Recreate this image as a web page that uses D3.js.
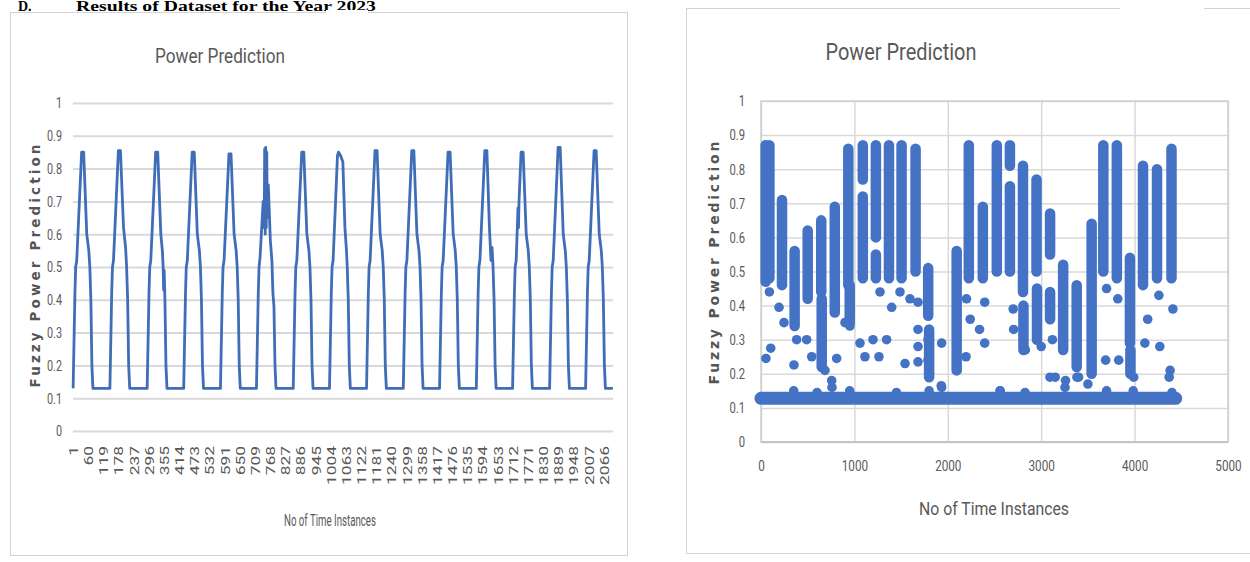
<!DOCTYPE html>
<html><head><meta charset="utf-8">
<script src="https://cdn.jsdelivr.net/npm/d3@7"></script>
<style>
html,body{margin:0;padding:0;background:#fff;}
svg{display:block;}
.narrow{font-family:'Liberation Sans Narrow','Arial Narrow','Roboto',sans-serif;}
</style></head>
<body>
<svg id="chart" width="1250" height="562"></svg>
<script>
// ---------- DATA ----------
const heading = ["D.", "Results of Dataset for the Year 2023"];
const chartTitle = "Power Prediction";
const yTitle = "Fuzzy Power Prediction";
const xTitle = "No of Time Instances";

// Left chart: line vertices (time index, fuzzy power) per daily cycle
const cycleIndex = [
  [1, 8, 11, 15, 34, 42, 54, 62, 66, 70, 74, 78],
  [144, 151, 154, 158, 177, 185, 197, 205, 209, 213, 217, 221],
  [289, 296, 299, 303, 322, 330, 342, 348, 351, 353, 355, 358, 362, 366],
  [431, 438, 441, 445, 464, 472, 484, 492, 496, 500, 504, 508],
  [574, 581, 584, 588, 607, 615, 627, 635, 639, 643, 647, 651],
  [714, 721, 724, 728, 740, 744, 746, 748, 750, 752, 754, 756, 760, 768, 774, 778, 782, 786, 790],
  [857, 864, 867, 871, 890, 898, 910, 918, 922, 926, 930, 934],
  [998, 1005, 1008, 1012, 1029, 1033, 1041, 1050, 1058, 1064, 1067, 1071, 1075, 1079],
  [1142, 1149, 1152, 1156, 1175, 1183, 1195, 1203, 1207, 1211, 1215, 1219],
  [1285, 1292, 1295, 1299, 1318, 1326, 1338, 1346, 1350, 1354, 1358, 1362],
  [1426, 1433, 1436, 1440, 1459, 1467, 1479, 1487, 1491, 1495, 1499, 1503],
  [1569, 1576, 1579, 1583, 1602, 1610, 1620, 1626, 1630, 1634, 1638, 1642, 1646],
  [1710, 1717, 1720, 1724, 1731, 1733, 1735, 1743, 1751, 1763, 1771, 1775, 1779, 1783, 1787],
  [1854, 1861, 1864, 1868, 1887, 1895, 1907, 1915, 1919, 1923, 1927, 1931],
  [1994, 2001, 2004, 2008, 2027, 2035, 2047, 2055, 2059, 2063, 2067, 2071, 2100]
];
const cycleValue = [
  [0.13, 0.42, 0.50, 0.52, 0.85, 0.85, 0.60, 0.55, 0.50, 0.40, 0.20, 0.13],
  [0.13, 0.42, 0.50, 0.52, 0.855, 0.855, 0.62, 0.56, 0.50, 0.40, 0.20, 0.13],
  [0.13, 0.42, 0.50, 0.52, 0.85, 0.85, 0.60, 0.55, 0.50, 0.43, 0.49, 0.40, 0.20, 0.13],
  [0.13, 0.42, 0.50, 0.52, 0.85, 0.85, 0.60, 0.55, 0.50, 0.40, 0.20, 0.13],
  [0.13, 0.42, 0.50, 0.52, 0.845, 0.845, 0.60, 0.55, 0.50, 0.40, 0.20, 0.13],
  [0.13, 0.42, 0.50, 0.53, 0.70, 0.62, 0.86, 0.60, 0.865, 0.62, 0.85, 0.65, 0.75, 0.58, 0.52, 0.42, 0.38, 0.20, 0.13],
  [0.13, 0.42, 0.50, 0.52, 0.85, 0.85, 0.60, 0.55, 0.50, 0.40, 0.20, 0.13],
  [0.13, 0.42, 0.50, 0.52, 0.84, 0.85, 0.84, 0.82, 0.62, 0.55, 0.50, 0.40, 0.20, 0.13],
  [0.13, 0.42, 0.50, 0.52, 0.855, 0.855, 0.60, 0.55, 0.50, 0.40, 0.20, 0.13],
  [0.13, 0.42, 0.50, 0.52, 0.855, 0.855, 0.60, 0.55, 0.50, 0.40, 0.20, 0.13],
  [0.13, 0.42, 0.50, 0.52, 0.85, 0.85, 0.60, 0.55, 0.50, 0.40, 0.20, 0.13],
  [0.13, 0.42, 0.50, 0.52, 0.855, 0.855, 0.62, 0.52, 0.56, 0.50, 0.40, 0.20, 0.13],
  [0.13, 0.42, 0.50, 0.52, 0.68, 0.62, 0.70, 0.85, 0.85, 0.60, 0.55, 0.50, 0.40, 0.20, 0.13],
  [0.13, 0.42, 0.50, 0.52, 0.865, 0.865, 0.60, 0.55, 0.50, 0.40, 0.20, 0.13],
  [0.13, 0.42, 0.50, 0.52, 0.855, 0.855, 0.60, 0.55, 0.50, 0.40, 0.20, 0.13, 0.13]
];
const leftXTicks = [1, 60, 119, 178, 237, 296, 355, 414, 473, 532, 591, 650, 709, 768, 827, 886, 945,
  1004, 1063, 1122, 1181, 1240, 1299, 1358, 1417, 1476, 1535, 1594, 1653, 1712, 1771, 1830, 1889, 1948, 2007, 2066];
const leftCount = 2100;
const yTicks = [0, 0.1, 0.2, 0.3, 0.4, 0.5, 0.6, 0.7, 0.8, 0.9, 1];

// Right chart: scatter. Dense vertical stacks of points (x, lowest, highest)
const colX    = [50, 90, 225, 360, 500, 645, 650, 790, 935, 950, 1090, 1090, 1230, 1230, 1370, 1505, 1655, 1790, 1800, 2095, 2225, 2375, 2525, 2665, 2665, 2805, 2810, 2950, 2955, 3095, 3095, 3235, 3380, 3540, 3665, 3810, 3950, 3955, 4090, 4240, 4395];
const colLow  = [0.47, 0.48, 0.46, 0.34, 0.42, 0.44, 0.22, 0.38, 0.46, 0.35, 0.48, 0.77, 0.48, 0.60, 0.48, 0.48, 0.50, 0.37, 0.19, 0.21, 0.48, 0.48, 0.50, 0.50, 0.81, 0.44, 0.27, 0.50, 0.30, 0.55, 0.36, 0.27, 0.22, 0.20, 0.50, 0.48, 0.29, 0.20, 0.46, 0.48, 0.48];
const colHigh = [0.87, 0.87, 0.71, 0.56, 0.62, 0.65, 0.42, 0.69, 0.86, 0.46, 0.72, 0.87, 0.55, 0.87, 0.87, 0.87, 0.86, 0.51, 0.33, 0.56, 0.87, 0.69, 0.87, 0.75, 0.87, 0.81, 0.40, 0.77, 0.45, 0.67, 0.44, 0.52, 0.46, 0.64, 0.87, 0.87, 0.54, 0.27, 0.81, 0.80, 0.86];
// Isolated points
const dotX = [53, 104, 90, 193, 246, 353, 382, 489, 543, 685, 757, 810, 899, 952, 1060, 1113, 1199, 1263, 1274, 1345, 1399, 1488, 1542, 1595, 1681, 1681, 1681, 1681, 1788, 1788, 1934, 1934, 2200, 2195, 2240, 2395, 2340, 2395, 2560, 2700, 2705, 2830, 3000, 3120, 3150, 3260, 3400, 3700, 3690, 3820, 3830, 3990, 4110, 4140, 4260, 4270, 4410, 4380, 4370];
const dotY = [0.245, 0.275, 0.44, 0.395, 0.35, 0.226, 0.30, 0.30, 0.25, 0.21, 0.18, 0.245, 0.35, 0.34, 0.29, 0.25, 0.30, 0.25, 0.44, 0.30, 0.395, 0.44, 0.23, 0.42, 0.41, 0.33, 0.28, 0.235, 0.30, 0.24, 0.29, 0.16, 0.42, 0.25, 0.36, 0.41, 0.33, 0.29, 0.15, 0.39, 0.33, 0.27, 0.28, 0.30, 0.19, 0.18, 0.19, 0.45, 0.24, 0.42, 0.24, 0.19, 0.29, 0.36, 0.43, 0.28, 0.39, 0.21, 0.19];
// Base band of points near 0.13 and small bumps above it
const baseStart = 0, baseEnd = 4440, baseValue = 0.128;
const bumpX = [350, 600, 760, 950, 1450, 1800, 1930, 2560, 2827, 3094, 3255, 3383, 3500, 3700, 3985, 4400];
const bumpY = [0.15, 0.145, 0.16, 0.15, 0.145, 0.15, 0.165, 0.15, 0.145, 0.19, 0.16, 0.19, 0.17, 0.15, 0.15, 0.145];
const rightXTicks = [0, 1000, 2000, 3000, 4000, 5000];

// ---------- DRAW ----------
const svg = d3.select("#chart");
svg.append("rect").attr("width", 1250).attr("height", 562).attr("fill", "#fff");

const lineBlue = "#3f6db7";
const dotBlue = "#4472c4";
const grid = "#d9d9d9";
const txt = "#595959";

// condense text horizontally (approximates the narrow chart font)
function condense(sel, f) {
  sel.each(function () {
    const w = this.getComputedTextLength();
    d3.select(this).attr("textLength", w * f).attr("lengthAdjust", "spacingAndGlyphs");
  });
}

// heading (at the top edge)
svg.append("text").attr("x", 18).attr("y", 10.5).attr("font-family", "'Liberation Serif','Times New Roman',serif")
  .attr("font-weight", "bold").attr("font-size", 14).attr("fill", "#000").text(heading[0]);
svg.append("text").attr("x", 76).attr("y", 10.5).attr("font-family", "'Liberation Serif','Times New Roman',serif")
  .attr("font-weight", "bold").attr("font-size", 14).attr("fill", "#000")
  .attr("textLength", 300).attr("lengthAdjust", "spacingAndGlyphs").text(heading[1]);

// panel frames
svg.append("rect").attr("x", 10.5).attr("y", 12.5).attr("width", 617).attr("height", 543)
  .attr("fill", "none").attr("stroke", "#d4d4d4");
svg.append("rect").attr("x", 326).attr("y", 10).attr("width", 42).attr("height", 5).attr("fill", "#fff");
svg.append("rect").attr("x", 686.5).attr("y", 8.5).attr("width", 580).attr("height", 545)
  .attr("fill", "none").attr("stroke", "#d4d4d4");
svg.append("rect").attr("x", 1120).attr("y", 6).attr("width", 84).attr("height", 5).attr("fill", "#fff");

// ===== LEFT CHART =====
const xL = d3.scaleLinear().domain([0.5, leftCount + 0.5]).range([73, 613]);
const yL = d3.scaleLinear().domain([0, 1]).range([431, 103]);
const gL = svg.append("g");

// gridlines
gL.append("g").attr("transform", "translate(73,0)")
  .call(d3.axisLeft(yL).tickValues(yTicks).tickSize(-540).tickFormat(""))
  .call(g => g.select(".domain").remove())
  .call(g => g.selectAll("line").attr("stroke", grid).attr("stroke-width", 2));
// y labels
gL.append("g").attr("transform", "translate(65,0)").attr("class", "narrow")
  .call(d3.axisLeft(yL).tickValues(yTicks).tickSize(0).tickFormat(d3.format("~g")))
  .call(g => g.select(".domain").remove())
  .call(g => g.selectAll("text").attr("fill", txt).attr("font-size", 15).attr("font-family", null))
  .call(g => condense(g.selectAll("text"), 0.72));
// x labels (rotated)
gL.append("g").attr("transform", "translate(0,441)").attr("class", "narrow")
  .call(d3.axisBottom(xL).tickValues(leftXTicks).tickSize(0).tickFormat(d3.format("d")))
  .call(g => g.select(".domain").remove())
  .call(g => g.selectAll("text").attr("fill", txt).attr("font-size", 12).attr("font-family", null)
    .attr("text-anchor", "end").attr("dy", "0.35em").attr("y", 0).attr("x", -5)
    .attr("transform", "rotate(-90)"))
  .call(g => condense(g.selectAll("text"), 1.45));

// line
const linePts = [];
cycleIndex.forEach((c, ci) => c.forEach((ix, k) => linePts.push([ix, cycleValue[ci][k]])));
gL.append("path").datum(linePts)
  .attr("d", d3.line().x(d => xL(d[0])).y(d => yL(d[1])))
  .attr("fill", "none").attr("stroke", lineBlue).attr("stroke-width", 2.8)
  .attr("stroke-linejoin", "round");

// titles
gL.append("text").attr("class", "narrow").attr("x", 220).attr("y", 63).attr("text-anchor", "middle")
  .attr("font-size", 21).attr("fill", txt).attr("textLength", 130).attr("lengthAdjust", "spacingAndGlyphs").text(chartTitle);
gL.append("text").attr("class", "narrow").attr("x", 330).attr("y", 526).attr("text-anchor", "middle")
  .attr("font-size", 16).attr("fill", txt).attr("textLength", 92).attr("lengthAdjust", "spacingAndGlyphs").text(xTitle);
gL.append("text").attr("transform", "translate(40,266) rotate(-90)").attr("text-anchor", "middle")
  .attr("font-family", "'DejaVu Sans',sans-serif").attr("font-weight", "bold").attr("font-size", 13.5)
  .attr("fill", "#555").attr("textLength", 243).attr("lengthAdjust", "spacing").text(yTitle);

// ===== RIGHT CHART =====
const xR = d3.scaleLinear().domain([0, 5000]).range([761, 1228]);
const yR = d3.scaleLinear().domain([0, 1]).range([442, 101]);
const gR = svg.append("g");

gR.append("g").attr("transform", "translate(761,0)")
  .call(d3.axisLeft(yR).tickValues(yTicks).tickSize(-467).tickFormat(""))
  .call(g => g.select(".domain").remove())
  .call(g => g.selectAll("line").attr("stroke", grid).attr("stroke-width", 1.5));
gR.append("g").attr("transform", "translate(0,442)")
  .call(d3.axisBottom(xR).tickValues(rightXTicks).tickSize(-341).tickFormat(""))
  .call(g => g.select(".domain").remove())
  .call(g => g.selectAll("line").attr("stroke", grid).attr("stroke-width", 1.5));
gR.append("rect").attr("x", 761).attr("y", 101).attr("width", 467).attr("height", 341)
  .attr("fill", "none").attr("stroke", "#d0d0d0").attr("stroke-width", 1.5);
gR.append("line").attr("x1", 761).attr("x2", 1228).attr("y1", 442).attr("y2", 442)
  .attr("stroke", "#bfbfbf").attr("stroke-width", 1.5);

gR.append("g").attr("transform", "translate(748,0)").attr("class", "narrow")
  .call(d3.axisLeft(yR).tickValues(yTicks).tickSize(0).tickFormat(d3.format("~g")))
  .call(g => g.select(".domain").remove())
  .call(g => g.selectAll("text").attr("fill", txt).attr("font-size", 15).attr("font-family", null))
  .call(g => condense(g.selectAll("text"), 0.75));
gR.append("g").attr("transform", "translate(0,457)").attr("class", "narrow")
  .call(d3.axisBottom(xR).tickValues(rightXTicks).tickSize(0).tickFormat(d3.format("d")))
  .call(g => g.select(".domain").remove())
  .call(g => g.selectAll("text").attr("fill", txt).attr("font-size", 15).attr("font-family", null))
  .call(g => condense(g.selectAll("text"), 0.78));

// base band
gR.append("line").attr("x1", xR(baseStart)).attr("x2", xR(baseEnd))
  .attr("y1", yR(baseValue)).attr("y2", yR(baseValue))
  .attr("stroke", dotBlue).attr("stroke-width", 13).attr("stroke-linecap", "round");
// stacks
gR.selectAll(".col").data(colX.map((x, i) => ({x, lo: colLow[i], hi: colHigh[i]}))).join("line")
  .attr("x1", d => xR(d.x)).attr("x2", d => xR(d.x))
  .attr("y1", d => yR(d.lo)).attr("y2", d => yR(d.hi))
  .attr("stroke", dotBlue).attr("stroke-width", 10.5).attr("stroke-linecap", "round");
// isolated points
gR.selectAll(".dot").data(dotX.map((x, i) => ({x, y: dotY[i]}))).join("circle")
  .attr("cx", d => xR(d.x)).attr("cy", d => yR(d.y)).attr("r", 4.8).attr("fill", dotBlue);
gR.selectAll(".bump").data(bumpX.map((x, i) => ({x, y: bumpY[i]}))).join("circle")
  .attr("cx", d => xR(d.x)).attr("cy", d => yR(d.y)).attr("r", 4.8).attr("fill", dotBlue);

gR.append("text").attr("class", "narrow").attr("x", 901).attr("y", 60).attr("text-anchor", "middle")
  .attr("font-size", 24).attr("fill", txt).attr("textLength", 151).attr("lengthAdjust", "spacingAndGlyphs").text(chartTitle);
gR.append("text").attr("class", "narrow").attr("x", 994).attr("y", 515).attr("text-anchor", "middle")
  .attr("font-size", 18).attr("fill", txt).attr("textLength", 150).attr("lengthAdjust", "spacingAndGlyphs").text(xTitle);
gR.append("text").attr("transform", "translate(719,263) rotate(-90)").attr("text-anchor", "middle")
  .attr("font-family", "'DejaVu Sans',sans-serif").attr("font-weight", "bold").attr("font-size", 14)
  .attr("fill", "#555").attr("textLength", 243).attr("lengthAdjust", "spacing").text(yTitle);
</script>
</body></html>
